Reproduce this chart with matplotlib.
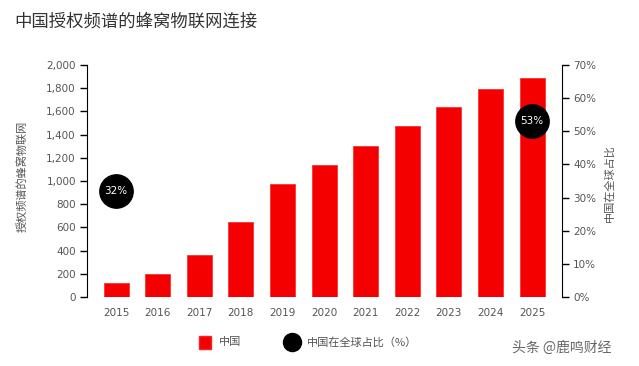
import matplotlib
matplotlib.use("Agg")
import matplotlib.pyplot as plt
from matplotlib.ticker import FuncFormatter

plt.rcParams['font.family'] = ['Noto Sans CJK SC', 'DejaVu Sans']

years = ['2015', '2016', '2017', '2018', '2019', '2020', '2021', '2022', '2023', '2024', '2025']
connections = [124, 199, 362, 647, 974, 1138, 1302, 1474, 1638, 1793, 1888]
share_years = ['2015', '2025']
share_pct = [32, 53]
share_labels = ['32%', '53%']

title = '中国授权频谱的蜂窝物联网连接'
ylabel_left = '授权频谱的蜂窝物联网'
ylabel_right = '中国在全球占比'
legend_bar = '中国'
legend_dot = '中国在全球占比（%）'
watermark = '头条 @鹿鸣财经'

W, H = 639, 366
fig = plt.figure(figsize=(W / 100, H / 100), dpi=100)
ax = fig.add_axes([87 / W, 1 - 297 / H, (562 - 87) / W, (297 - 65) / H])
ax2 = ax.twinx()

x = list(range(len(years)))
ax.bar(x, connections, width=0.6, color='#f50000', edgecolor='#ff2020', linewidth=0.5, zorder=2)
ax.set_xlim(-0.7, len(years) - 1 + 0.72)
ax.set_ylim(0, 2000)
ax.set_yticks(range(0, 2001, 200))
ax.yaxis.set_major_formatter(FuncFormatter(lambda v, p: f'{int(v):,}'))
ax.set_xticks(x)
ax.set_xticklabels(years)

sx = [years.index(s) for s in share_years]
ax2.set_ylim(0, 70)
ax2.set_yticks(range(0, 71, 10))
ax2.yaxis.set_major_formatter(FuncFormatter(lambda v, p: f'{int(v)}%'))
ax2.plot(sx, share_pct, 'o', color='black', markersize=24, linestyle='none', zorder=5)
for xi, yi, lab in zip(sx, share_pct, share_labels):
    ax2.text(xi, yi, lab, color='white', fontsize=7.5, ha='center', va='center', zorder=6,
             family='DejaVu Sans')

for a in (ax, ax2):
    for s in ('top', 'bottom'):
        a.spines[s].set_visible(False)
ax.spines['right'].set_visible(False)
ax2.spines['left'].set_visible(False)
ax.spines['left'].set_color('black')
ax2.spines['right'].set_color('black')
ax.tick_params(axis='y', length=5, width=1, colors='black', labelcolor='#555555', labelsize=7.5, pad=3)
ax2.tick_params(axis='y', length=5, width=1, colors='black', labelcolor='#555555', labelsize=7.5, pad=3)
ax.tick_params(axis='x', length=0, labelcolor='#555555', labelsize=7.5, pad=8)
for lab in ax.get_yticklabels() + ax2.get_yticklabels() + ax.get_xticklabels():
    lab.set_family('DejaVu Sans')

fig.text(22 / W, 1 - 176 / H, ylabel_left, rotation=90, ha='center', va='center', fontsize=8, color='#555555')
fig.text(609 / W, 1 - 183 / H, ylabel_right, rotation=90, ha='center', va='center', fontsize=8, color='#555555')
fig.text(14 / W, 1 - 22 / H, title, ha='left', va='center', fontsize=12.5, color='#333333')

# legend
fig.patches.append(plt.Rectangle((199 / W, 1 - 349 / H), 12 / W, 13 / H, transform=fig.transFigure,
                                 facecolor='#f50000', edgecolor='#ff2020', figure=fig))
fig.text(219 / W, 1 - 342 / H, legend_bar, ha='left', va='center', fontsize=8, color='#555555')
fig.add_artist(plt.Line2D([292 / W], [1 - 342 / H], marker='o', markersize=13, color='black',
                          transform=fig.transFigure))
fig.text(307 / W, 1 - 342 / H, legend_dot, ha='left', va='center', fontsize=8, color='#555555')
fig.text(512 / W, 1 - 348 / H, watermark, ha='left', va='center', fontsize=10, color='#666666')

fig.savefig('out.png', dpi=100, facecolor='white')
